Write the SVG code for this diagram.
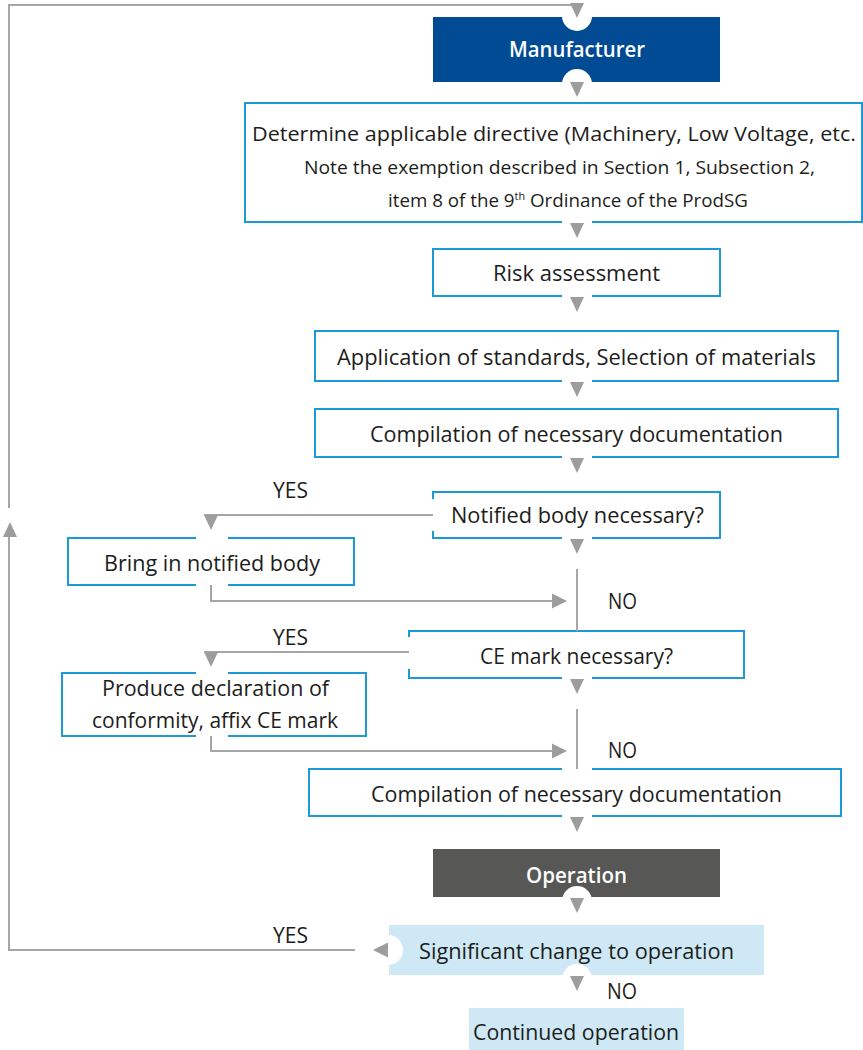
<svg xmlns="http://www.w3.org/2000/svg" xmlns:xlink="http://www.w3.org/1999/xlink" width="863" height="1050" viewBox="0 0 863 1050">
<style>
  text { font-family: "Open Sans", "Noto Sans", "Liberation Sans", sans-serif; font-size: 22px; fill: #1d1d1b; }
  .w { fill: #ffffff; font-weight: 600; }
  .d1 { font-size: 20px; }
  .d2 { font-size: 19px; }
  .obp { fill: none; stroke: #1d9ad6; stroke-width: 2; }
  .ln { fill: none; stroke: #a6a6a6; stroke-width: 2; }
  .ar { fill: #9d9d9c; }
  .notch { fill: #ffffff; }
</style>
<defs>
  <path id="ad" d="M-7,0 H7 L0,15 Z"/>
  <path id="au" d="M-7,15 H7 L0,0 Z"/>
  <path id="ar" d="M0,-7.5 V7.5 L15,0 Z"/>
  <path id="al" d="M15,-7.5 V7.5 L0,0 Z"/>
</defs>
<rect width="863" height="1050" fill="#ffffff"/>

<g id="manufacturer">
  <rect x="433" y="17" width="287" height="65" fill="#004b93"/>
  <circle class="notch" cx="577" cy="16" r="15"/>
  <circle class="notch" cx="577" cy="84" r="15"/>
  <text class="w" x="509" y="57" textLength="136" lengthAdjust="spacingAndGlyphs">Manufacturer</text>
</g>

<g id="directive">
  <path class="obp" d="M592,222 H862 V103 H245 V222 H562"/>
  <text class="d1" x="252" y="141" textLength="604" lengthAdjust="spacingAndGlyphs">Determine applicable directive (Machinery, Low Voltage, etc.</text>
  <text class="d2" x="304" y="174" textLength="511" lengthAdjust="spacingAndGlyphs">Note the exemption described in Section 1, Subsection 2,</text>
  <text class="d2" x="388" y="207" textLength="360" lengthAdjust="spacingAndGlyphs">item 8 of the 9<tspan font-size="11" dy="-7">th</tspan><tspan dy="7"> Ordinance of the ProdSG</tspan></text>
</g>

<g id="risk">
  <path class="obp" d="M592,296 H720 V249 H433 V296 H562"/>
  <text x="493" y="281" textLength="167" lengthAdjust="spacingAndGlyphs">Risk assessment</text>
</g>

<g id="standards">
  <path class="obp" d="M592,381 H838 V331 H315 V381 H562"/>
  <text x="337" y="365" textLength="479" lengthAdjust="spacingAndGlyphs">Application of standards, Selection of materials</text>
</g>

<g id="compilation1">
  <path class="obp" d="M592,457 H838 V409 H315 V457 H562"/>
  <text x="370" y="442" textLength="413" lengthAdjust="spacingAndGlyphs">Compilation of necessary documentation</text>
</g>

<g id="notified">
  <path class="obp" d="M433,499 V492 H720 V538 H592 M562,538 H433 V531"/>
  <text x="451" y="523" textLength="253" lengthAdjust="spacingAndGlyphs">Notified body necessary?</text>
</g>

<g id="bring">
  <path class="obp" d="M228,538 H354 V585 H228 M196,585 H68 V538 H196"/>
  <text x="104" y="571" textLength="216" lengthAdjust="spacingAndGlyphs">Bring in notified body</text>
</g>

<g id="ce">
  <path class="obp" d="M409,637 V631 H744 V678 H592 M562,678 H409 V669"/>
  <text x="480" y="664" textLength="193" lengthAdjust="spacingAndGlyphs">CE mark necessary?</text>
</g>

<g id="produce">
  <path class="obp" d="M228,673 H366 V736 H228 M196,736 H62 V673 H196"/>
  <text x="102" y="696" textLength="227" lengthAdjust="spacingAndGlyphs">Produce declaration of</text>
  <text x="92" y="728" textLength="246" lengthAdjust="spacingAndGlyphs">conformity, affix CE mark</text>
</g>

<g id="compilation2">
  <path class="obp" d="M592,769 H841 V816 H592 M562,816 H309 V769 H562"/>
  <text x="371" y="802" textLength="411" lengthAdjust="spacingAndGlyphs">Compilation of necessary documentation</text>
</g>

<g id="operation">
  <rect x="433" y="849" width="287" height="48" fill="#575756"/>
  <circle class="notch" cx="577" cy="901" r="15"/>
  <text class="w" x="526" y="883" textLength="101" lengthAdjust="spacingAndGlyphs">Operation</text>
</g>

<g id="significant">
  <rect x="389" y="925" width="375" height="50" fill="#cee9f5"/>
  <circle class="notch" cx="388" cy="950" r="15"/>
  <circle class="notch" cx="577" cy="979" r="15"/>
  <text x="419" y="959" textLength="315" lengthAdjust="spacingAndGlyphs">Significant change to operation</text>
</g>

<g id="continued">
  <rect x="469" y="1008" width="215" height="42" fill="#cee9f5"/>
  <text x="473" y="1040" textLength="206" lengthAdjust="spacingAndGlyphs">Continued operation</text>
</g>

<g id="connectors">
  <path class="ln" d="M355,950 H9 V537"/>
  <path class="ln" d="M9,508 V5 H577"/>
  <path class="ln" d="M433,515 H204"/>
  <path class="ln" d="M211,585 V601 H553"/>
  <path class="ln" d="M577,569 V631"/>
  <path class="ln" d="M409,652 H204"/>
  <path class="ln" d="M211,736 V751 H553"/>
  <path class="ln" d="M577,709 V769"/>

  <use class="ar" xlink:href="#ad" x="577" y="3"/>
  <use class="ar" xlink:href="#ad" x="577" y="82"/>
  <use class="ar" xlink:href="#ad" x="577" y="223"/>
  <use class="ar" xlink:href="#ad" x="577" y="297"/>
  <use class="ar" xlink:href="#ad" x="577" y="382"/>
  <use class="ar" xlink:href="#ad" x="577" y="458"/>
  <use class="ar" xlink:href="#ad" x="577" y="539"/>
  <use class="ar" xlink:href="#ad" x="211" y="515"/>
  <use class="ar" xlink:href="#ar" x="552" y="601"/>
  <use class="ar" xlink:href="#ad" x="577" y="679"/>
  <use class="ar" xlink:href="#ad" x="211" y="652"/>
  <use class="ar" xlink:href="#ar" x="552" y="751"/>
  <use class="ar" xlink:href="#ad" x="577" y="817"/>
  <use class="ar" xlink:href="#ad" x="577" y="898"/>
  <use class="ar" xlink:href="#al" x="373" y="950"/>
  <use class="ar" xlink:href="#ad" x="577" y="976"/>
  <use class="ar" xlink:href="#au" x="10" y="522"/>

  <text x="273" y="498" textLength="35" lengthAdjust="spacingAndGlyphs">YES</text>
  <text x="608" y="609" textLength="29" lengthAdjust="spacingAndGlyphs">NO</text>
  <text x="273" y="645" textLength="35" lengthAdjust="spacingAndGlyphs">YES</text>
  <text x="608" y="758" textLength="29" lengthAdjust="spacingAndGlyphs">NO</text>
  <text x="273" y="943" textLength="35" lengthAdjust="spacingAndGlyphs">YES</text>
  <text x="607" y="999" textLength="30" lengthAdjust="spacingAndGlyphs">NO</text>
</g>
</svg>
